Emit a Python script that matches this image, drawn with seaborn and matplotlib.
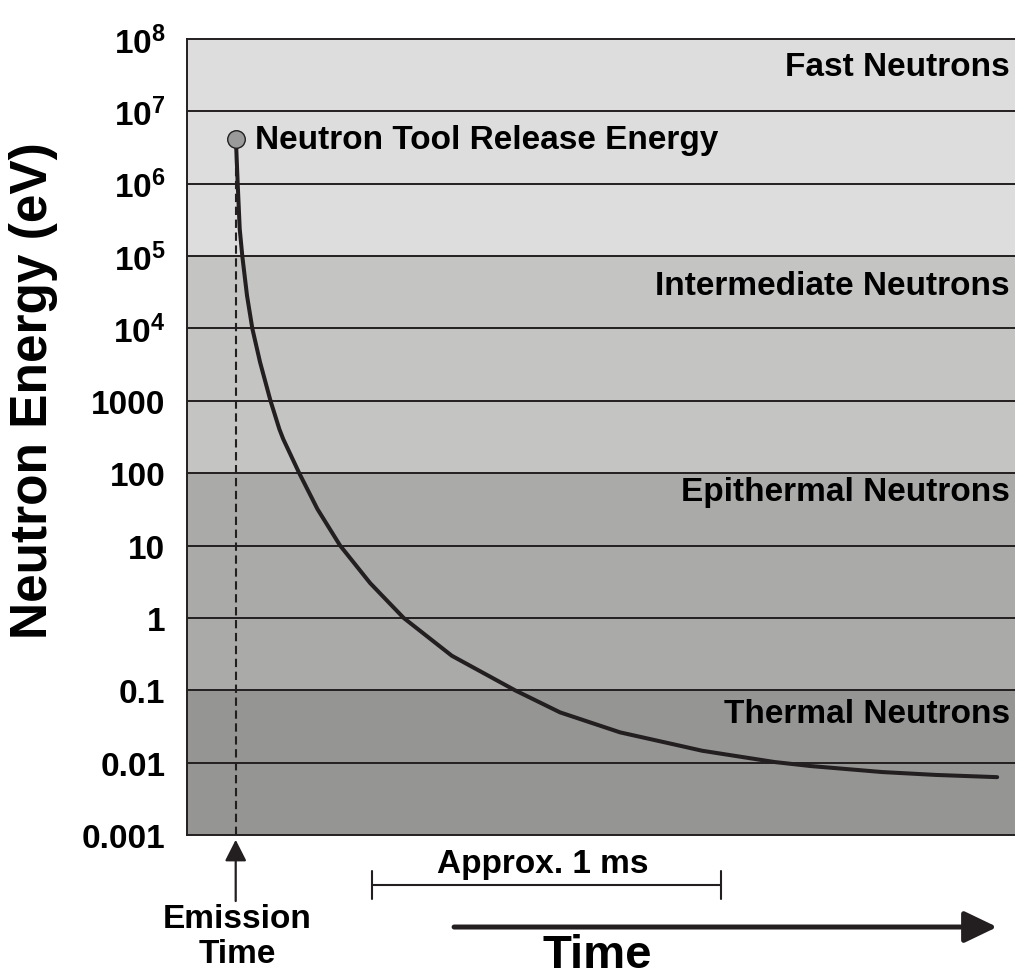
import numpy as np
import pandas as pd
import matplotlib
matplotlib.use("Agg")
import matplotlib.pyplot as plt
import seaborn as sns

# ---------------- data ----------------
time_ms = [0.0, 0.0017, 0.0057, 0.0115, 0.0189, 0.0324, 0.0476, 0.0696, 0.0997,
           0.125, 0.136, 0.182, 0.234, 0.299, 0.385, 0.481, 0.619, 0.800,
           0.929, 1.101, 1.273, 1.336, 1.543, 1.646, 1.852, 2.006, 2.181]
energy_eV = [4.15e6, 3.0e6, 1.0e6, 2.37e5, 1.0e5, 2.84e4, 1.0e4, 3.44e3, 1.0e3,
             407, 297, 100, 32, 10, 3.03, 1.0, 0.30, 0.1,
             0.0495, 0.0262, 0.0171, 0.0146, 0.0102, 0.00898, 0.00741, 0.00676, 0.0063]

release_time = [0.0]
release_energy = [4.15e6]

tick_values = [1e-3, 1e-2, 1e-1, 1, 10, 100, 1000, 1e4, 1e5, 1e6, 1e7, 1e8]
tick_labels = ["0.001", "0.01", "0.1", "1", "10", "100", "1000",
               r"$\mathbf{10^{4}}$", r"$\mathbf{10^{5}}$", r"$\mathbf{10^{6}}$",
               r"$\mathbf{10^{7}}$", r"$\mathbf{10^{8}}$"]

band_names = ["Thermal Neutrons", "Epithermal Neutrons", "Intermediate Neutrons", "Fast Neutrons"]
band_lower = [1e-3, 0.1, 100, 1e5]
band_upper = [0.1, 100, 1e5, 1e8]
band_colors = ["#959594", "#aaaaa9", "#c4c4c3", "#dddddd"]
band_label_y = [10 ** -1.32, 10 ** 1.75, 10 ** 4.60, 10 ** 7.62]

bracket_start_ms = 0.390
bracket_end_ms = 1.390

# ---------------- style ----------------
sns.set_theme(style="white")
plt.rcParams["font.family"] = ["Liberation Sans", "DejaVu Sans"]
plt.rcParams["font.weight"] = "bold"
plt.rcParams["text.color"] = "black"
plt.rcParams["axes.labelcolor"] = "black"
plt.rcParams["mathtext.fontset"] = "custom"
plt.rcParams["mathtext.bf"] = "Liberation Sans:bold"
plt.rcParams["mathtext.rm"] = "Liberation Sans:bold"

DARK = "#231f20"
FS = 24

fig = plt.figure(figsize=(10.15, 9.79), dpi=100)
ax = fig.add_axes([187 / 1015, 143 / 979, 828 / 1015, 796 / 979])

ax.set_yscale("log")
ax.set_ylim(1e-3, 1e8)
ax.set_xlim(-0.1395, 2.2321)

# bands
for lo, hi, c in zip(band_lower, band_upper, band_colors):
    ax.axhspan(lo, hi, color=c, zorder=0, lw=0)

# grid lines
for v in tick_values[1:-1]:
    ax.axhline(v, color=DARK, lw=1.4, zorder=1)

# dashed emission line
ax.plot([release_time[0], release_time[0]], [1e-3, release_energy[0]],
        color=DARK, lw=1.5, ls=(0, (4, 2.2)), zorder=2)

df = pd.DataFrame({"t": time_ms, "E": energy_eV})
sns.lineplot(data=df, x="t", y="E", ax=ax, color=DARK, lw=2.9, sort=False,
             estimator=None, zorder=3)
sns.scatterplot(x=release_time, y=release_energy, ax=ax, s=160, color="#9a9a9a",
                edgecolor=DARK, linewidth=1.0, zorder=4)

ax.text(0.055, release_energy[0], "Neutron Tool Release Energy", fontsize=FS,
        fontweight="bold", va="center", ha="left", color="black", zorder=5)

for name, y in zip(band_names, band_label_y):
    ax.text(0.994, y, name, transform=ax.get_yaxis_transform(), ha="right",
            va="center", fontsize=FS, fontweight="bold", color="black")

# axes cosmetics
ax.set_yticks(tick_values)
ax.set_yticklabels(tick_labels)
ax.yaxis.set_minor_locator(matplotlib.ticker.NullLocator())
ax.tick_params(axis="y", length=0, pad=15.5, labelsize=FS, labelcolor="black")
for lab in ax.get_yticklabels():
    lab.set_fontweight("bold")
ax.set_xticks([])
ax.set_xlabel("")
ax.set_ylabel("Neutron Energy (eV)", fontsize=37, fontweight="bold", color="black")
ax.yaxis.label.set_va("center")
ax.yaxis.set_label_coords(-0.1854, 0.56)

for s in ["left", "top", "bottom"]:
    ax.spines[s].set_color(DARK)
    ax.spines[s].set_linewidth(1.4)
    ax.spines[s].set_visible(True)
ax.spines["right"].set_visible(False)

trans = ax.get_xaxis_transform()

# emission arrow
ax.annotate("", xy=(release_time[0], -0.006), xytext=(release_time[0], -0.083),
            xycoords=trans, textcoords=trans,
            arrowprops=dict(arrowstyle="-|>,head_length=0.65,head_width=0.33",
                            mutation_scale=20, color=DARK, lw=1.6,
                            shrinkA=0, shrinkB=0),
            annotation_clip=False)
ax.text(release_time[0] + 0.005, -0.127, "Emission\nTime", transform=trans,
        ha="center", va="center", fontsize=FS, fontweight="bold", linespacing=1.2,
        color="black")

# approx 1 ms bracket
ax.plot([bracket_start_ms, bracket_end_ms], [-0.0628, -0.0628], transform=trans,
        color=DARK, lw=1.5, clip_on=False)
for bx in (bracket_start_ms, bracket_end_ms):
    ax.plot([bx, bx], [-0.045, -0.080], transform=trans, color=DARK, lw=1.5,
            clip_on=False)
ax.text(0.880, -0.0364, "Approx. 1 ms", transform=trans, ha="center",
        va="center", fontsize=FS, fontweight="bold", color="black")

# time arrow
ax.annotate("", xy=(2.181, -0.1156), xytext=(0.6255, -0.1156),
            xycoords=trans, textcoords=trans,
            arrowprops=dict(arrowstyle="-|>,head_length=1.0,head_width=0.48",
                            mutation_scale=20, color=DARK, lw=3.6,
                            shrinkA=0, shrinkB=0),
            annotation_clip=False)
ax.text(1.035, -0.1658, "Time", transform=trans, ha="center", va="baseline",
        fontsize=34, fontweight="bold", color="black")

fig.savefig("out.png", dpi=100)
